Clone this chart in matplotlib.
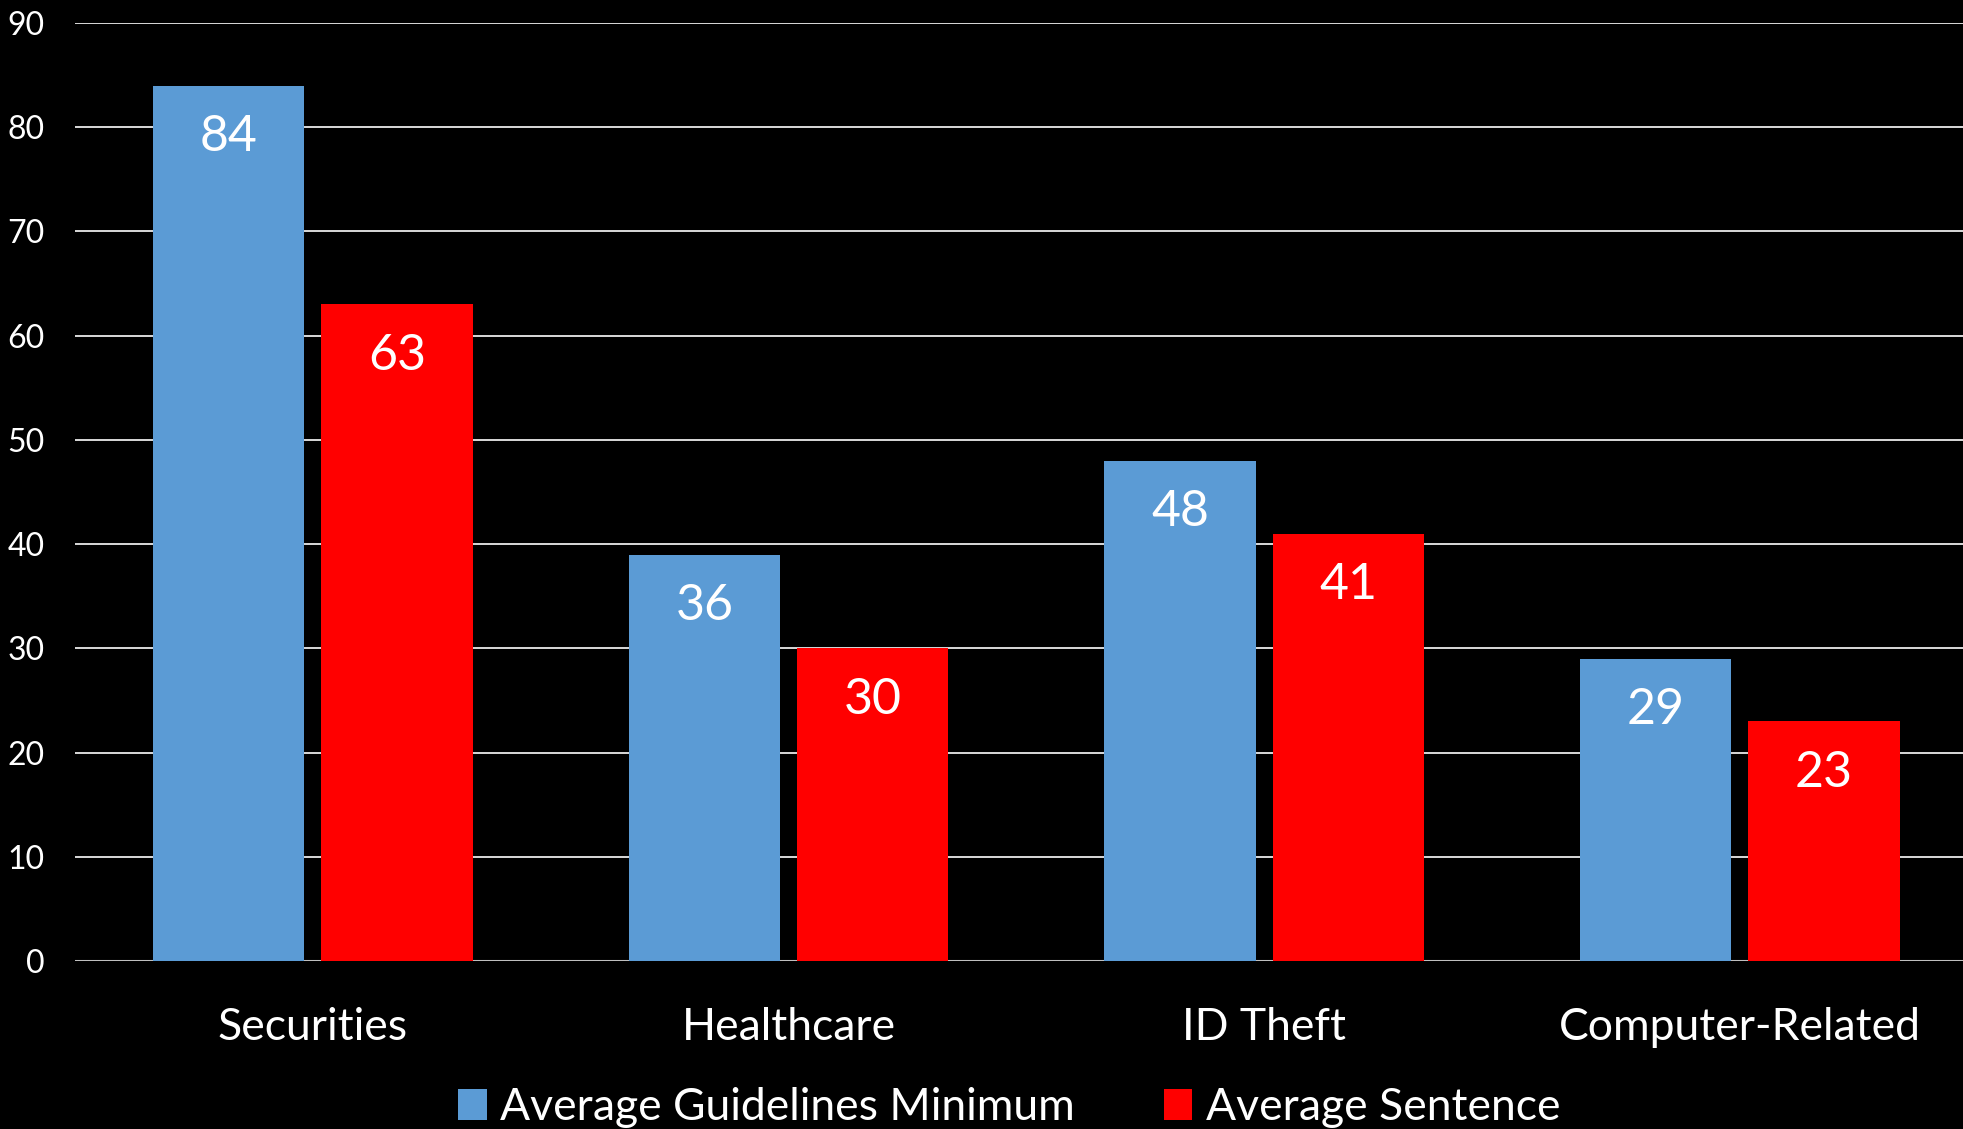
import matplotlib.pyplot as plt
import numpy as np

# Data
categories = ['Securities', 'Healthcare', 'ID Theft', 'Computer-Related']
guidelines_min = [84, 39, 48, 29]
guidelines_labels = ['84', '36', '48', '29']
avg_sentence = [63, 30, 41, 23]
sentence_labels = ['63', '30', '41', '23']
yticks = [0, 10, 20, 30, 40, 50, 60, 70, 80, 90]

blue = '#5b9bd5'
red = '#ff0000'

plt.rcParams['font.family'] = ['Lato', 'DejaVu Sans']

fig = plt.figure(figsize=(19.63, 11.29), dpi=100, facecolor='black')
ax = fig.add_axes([0.0382, 0.1488, 0.9618, 0.8308])
ax.set_facecolor('black')

x = np.arange(len(categories))
w = 0.318
off = 0.177

b1 = ax.bar(x - off, guidelines_min, w, color=blue, zorder=3,
            label='Average Guidelines Minimum')
b2 = ax.bar(x + off, avg_sentence, w, color=red, zorder=3,
            label='Average Sentence')

# value labels just inside the top of each bar
for bars, labs in [(b1, guidelines_labels), (b2, sentence_labels)]:
    for p, t in zip(bars, labs):
        ax.annotate(t, (p.get_x() + p.get_width() / 2, p.get_height()),
                    xytext=(0, -37), textcoords='offset points',
                    ha='center', va='center', color='white', fontsize=36,
                    zorder=4)

ax.set_ylim(0, 90)
ax.set_xlim(-0.5, 3.469)
ax.set_yticks(yticks)
ax.set_xticks(x)
ax.set_xticklabels(categories)
ax.tick_params(axis='y', length=0, pad=22, labelsize=23, labelcolor='white')
ax.tick_params(axis='x', length=0, pad=33, labelsize=32, labelcolor='white')

ax.yaxis.grid(True, color='#d9d9d9', linewidth=1.4, zorder=0)
ax.axhline(0, color='#bfbfbf', linewidth=2.2, zorder=2)
for s in ax.spines.values():
    s.set_visible(False)

leg = fig.legend(handles=[b1, b2], loc='center', bbox_to_anchor=(0.514, 0.019),
                 ncol=2, frameon=False, fontsize=32, labelcolor='white',
                 handlelength=0.65, handleheight=0.7, handletextpad=0.3,
                 columnspacing=2.0)

fig.savefig('out.png', dpi=100, facecolor='black')
